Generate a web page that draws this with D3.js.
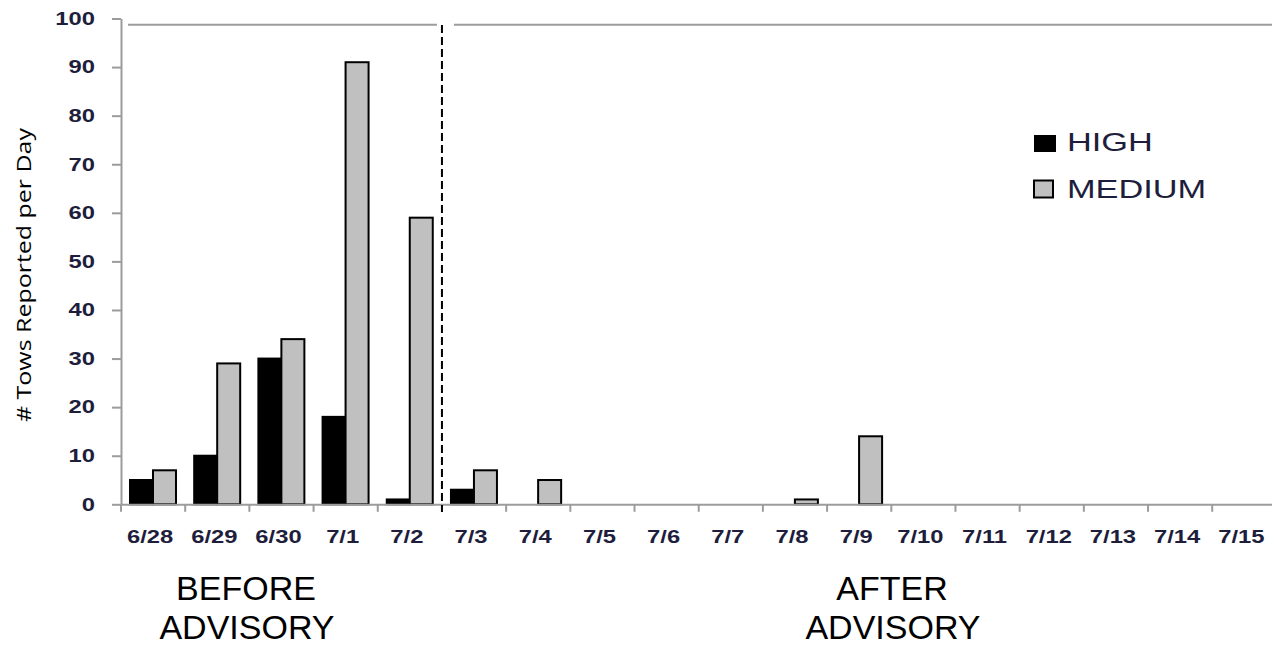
<!DOCTYPE html>
<html>
<head>
<meta charset="utf-8">
<script src="https://cdn.jsdelivr.net/npm/d3@7"></script>
<style>
  body { margin: 0; background: #fff; }
  svg { display: block; }
</style>
</head>
<body>
<figure id="chart" style="margin:0"></figure>
<script>
// data
const dates = ["6/28", "6/29", "6/30", "7/1", "7/2", "7/3", "7/4", "7/5", "7/6",
               "7/7", "7/8", "7/9", "7/10", "7/11", "7/12", "7/13", "7/14", "7/15"];
const high   = [5, 10, 30, 18, 1, 3, 0, 0, 0, 0, 0, 0, 0, 0, 0, 0, 0, 0];
const medium = [7, 29, 34, 91, 59, 7, 5, 0, 0, 0, 1, 14, 0, 0, 0, 0, 0, 0];
const series = ["HIGH", "MEDIUM"];
const yTicks = [0, 10, 20, 30, 40, 50, 60, 70, 80, 90, 100];
const advisoryDate = "7/3";
const beforeText = ["BEFORE", "ADVISORY"];
const afterText = ["AFTER", "ADVISORY"];
const yTitle = "# Tows Reported per Day";

const width = 1272, height = 650;
const stretchK = 1.32; // the picture is stretched sideways
const axisGrey = "#9c9c9c";
const labelColor = "#1e1e3c";
const colors = { HIGH: "#000000", MEDIUM: "#c0c0c0" };

const svg = d3.select("figure#chart")
    .append("svg")
    .attr("width", width)
    .attr("height", height)
    .attr("viewBox", `0 0 ${width} ${height}`);

const left = 121;
const bandW = 64.19;

var x = d3.scaleBand()
    .domain(dates)
    .range([left, left + bandW * dates.length]);

var xSeries = d3.scaleBand()
    .domain(series)
    .range([9, 55]);

var y = d3.scaleLinear()
    .domain([0, 100])
    .range([504.3, 18.5]);

// stretch text horizontally like the source image
function stretch(sel, k) {
    sel.each(function() {
        const w = this.getComputedTextLength();
        d3.select(this).attr("textLength", w * k).attr("lengthAdjust", "spacingAndGlyphs");
    });
}

// top border of plot area (broken around the dashed line)
const xa = x(advisoryDate);
svg.append("line")
    .attr("x1", 128).attr("x2", xa - 5)
    .attr("y1", 24.7).attr("y2", 24.7)
    .attr("stroke", axisGrey).attr("stroke-width", 2);
svg.append("line")
    .attr("x1", xa + 12).attr("x2", width)
    .attr("y1", 24.7).attr("y2", 24.7)
    .attr("stroke", axisGrey).attr("stroke-width", 2);

// bars
const rows = dates.map((d, i) => ({ date: d, HIGH: high[i], MEDIUM: medium[i] }));

const groups = svg.selectAll("g.day")
    .data(rows)
    .enter()
    .append("g")
    .attr("class", "day")
    .attr("transform", d => `translate(${x(d.date)},0)`);

groups.selectAll("rect")
    .data(d => series.map(s => ({ key: s, value: d[s] })).filter(v => v.value > 0))
    .enter()
    .append("rect")
    .attr("x", d => xSeries(d.key))
    .attr("y", d => y(d.value))
    .attr("width", xSeries.bandwidth())
    .attr("height", d => y(0) - y(d.value))
    .attr("fill", d => colors[d.key])
    .attr("stroke", "#000")
    .attr("stroke-width", 2);

// y axis
var yAxis = svg.append("g")
    .attr("class", "y axis")
    .attr("transform", `translate(${left},0)`)
    .call(d3.axisLeft(y).tickValues(yTicks).tickSize(9).tickSizeOuter(0).tickPadding(17));

yAxis.select(".domain").attr("stroke", axisGrey).attr("stroke-width", 2);
yAxis.selectAll(".tick line").attr("stroke", axisGrey).attr("stroke-width", 2);
yAxis.selectAll("text")
    .attr("font-family", "'Liberation Sans', Arial, sans-serif")
    .attr("font-size", 18)
    .attr("font-weight", "bold")
    .attr("fill", labelColor)
    .call(stretch, stretchK);

// x axis
var xAxis = svg.append("g")
    .attr("class", "x axis")
    .attr("transform", `translate(0,${y(0)})`)
    .call(d3.axisBottom(x).tickSize(0).tickSizeOuter(0).tickPadding(26));

xAxis.select(".domain").attr("stroke", axisGrey).attr("stroke-width", 2);
xAxis.selectAll("text")
    .attr("x", -3)
    .attr("font-family", "'Liberation Sans', Arial, sans-serif")
    .attr("font-size", 18)
    .attr("font-weight", "bold")
    .attr("fill", labelColor)
    .call(stretch, stretchK);

// category boundary ticks
xAxis.selectAll("line.bound")
    .data(dates.filter(d => d !== advisoryDate))
    .enter()
    .append("line")
    .attr("class", "bound")
    .attr("x1", d => x(d)).attr("x2", d => x(d))
    .attr("y1", 0).attr("y2", 7.5)
    .attr("stroke", axisGrey).attr("stroke-width", 2);

// advisory divider
svg.append("line")
    .attr("x1", xa).attr("x2", xa)
    .attr("y1", 25).attr("y2", 512)
    .attr("stroke", "#000")
    .attr("stroke-width", 2)
    .attr("stroke-dasharray", "8,4");

// y title
svg.append("text")
    .attr("transform", "translate(31,275) rotate(-90)")
    .attr("text-anchor", "middle")
    .attr("font-family", "'Open Sans', sans-serif")
    .attr("font-size", 20)
    .attr("fill", "#000")
    .attr("textLength", 294)
    .attr("lengthAdjust", "spacingAndGlyphs")
    .text(yTitle);

// legend
const legend = svg.selectAll("g.legend")
    .data(series)
    .enter()
    .append("g")
    .attr("class", "legend")
    .attr("transform", (d, i) => `translate(1034,${135 + i * 45})`);

legend.append("rect")
    .attr("x", 0).attr("y", (d, i) => i * 0.5)
    .attr("width", d => d === "HIGH" ? 22 : 19)
    .attr("height", 17)
    .attr("fill", d => colors[d])
    .attr("stroke", "#000")
    .attr("stroke-width", d => d === "HIGH" ? 0 : 2);

legend.append("text")
    .attr("x", 33)
    .attr("y", (d, i) => 16 + i * 1.5)
    .attr("font-family", "'Liberation Sans', Arial, sans-serif")
    .attr("font-size", 26)
    .attr("fill", labelColor)
    .text(d => d)
    .call(stretch, stretchK);

// period notes under the axis
function note(lines, cx) {
    svg.append("g")
        .selectAll("text")
        .data(lines)
        .enter()
        .append("text")
        .attr("x", (d, i) => cx + (i === 1 ? 1 : 0))
        .attr("y", (d, i) => 600 + i * 38.5)
        .attr("text-anchor", "middle")
        .attr("font-family", "'Liberation Sans', Arial, sans-serif")
        .attr("font-size", 34)
        .attr("fill", "#000")
        .text(d => d);
}
note(beforeText, 246);
note(afterText, 892);
</script>
</body>
</html>
